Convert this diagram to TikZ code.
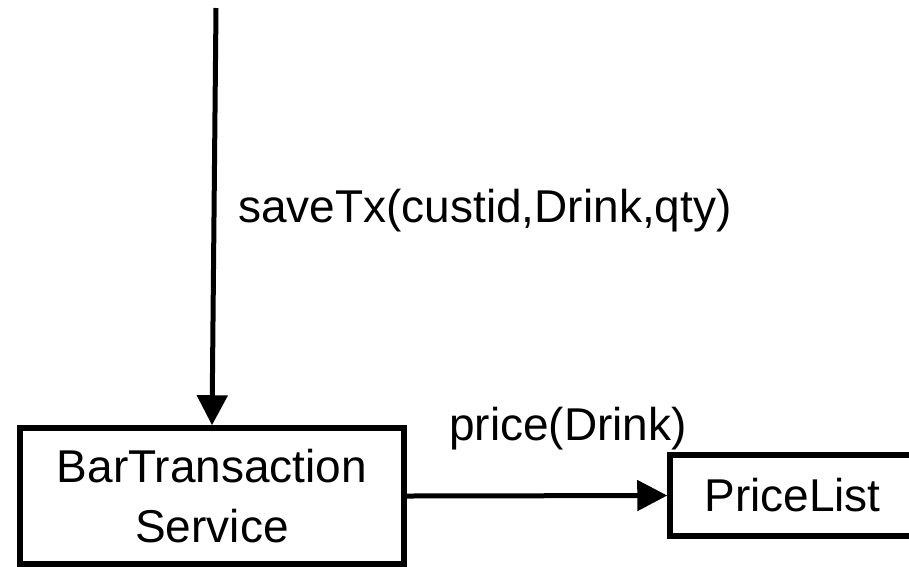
\documentclass[tikz,border=0pt]{standalone}
\usepackage{fontspec}
\setmainfont{Liberation Sans}
\usetikzlibrary{arrows.meta}
\begin{document}
\begin{tikzpicture}[x=1pt,y=-1pt,
  box/.style={draw=black,line width=5.5pt,fill=white,inner sep=0pt,align=center,
    font=\fontsize{46}{60}\selectfont},
  flow/.style={line width=5pt,-{Triangle[length=30pt,width=30pt]}},
  msg/.style={anchor=base west,inner sep=0pt,font=\fontsize{46}{55}\selectfont}]
  \useasboundingbox (0,0) rectangle (909,566);
  % service box and price list box (the latter runs past the right border)
  \node[box,minimum width=384pt,minimum height=136pt] (svc) at (212,496)
    {BarTransaction\\Service};
  \node[box,minimum width=245pt,minimum height=81pt] (plist) at (792.5,495.5)
    {PriceList};
  % incoming call from above
  \coordinate (caller) at (216,8);
  \draw[flow] (caller) -- (svc.north);
  \draw[flow] (svc.east) -- (plist.west);
  % message labels
  \node[msg] (savelbl) at (238,222) {saveTx(custid,Drink,qty)};
  \node[msg] (pricelbl) at (449,440) {price(Drink)};
\end{tikzpicture}
\end{document}
